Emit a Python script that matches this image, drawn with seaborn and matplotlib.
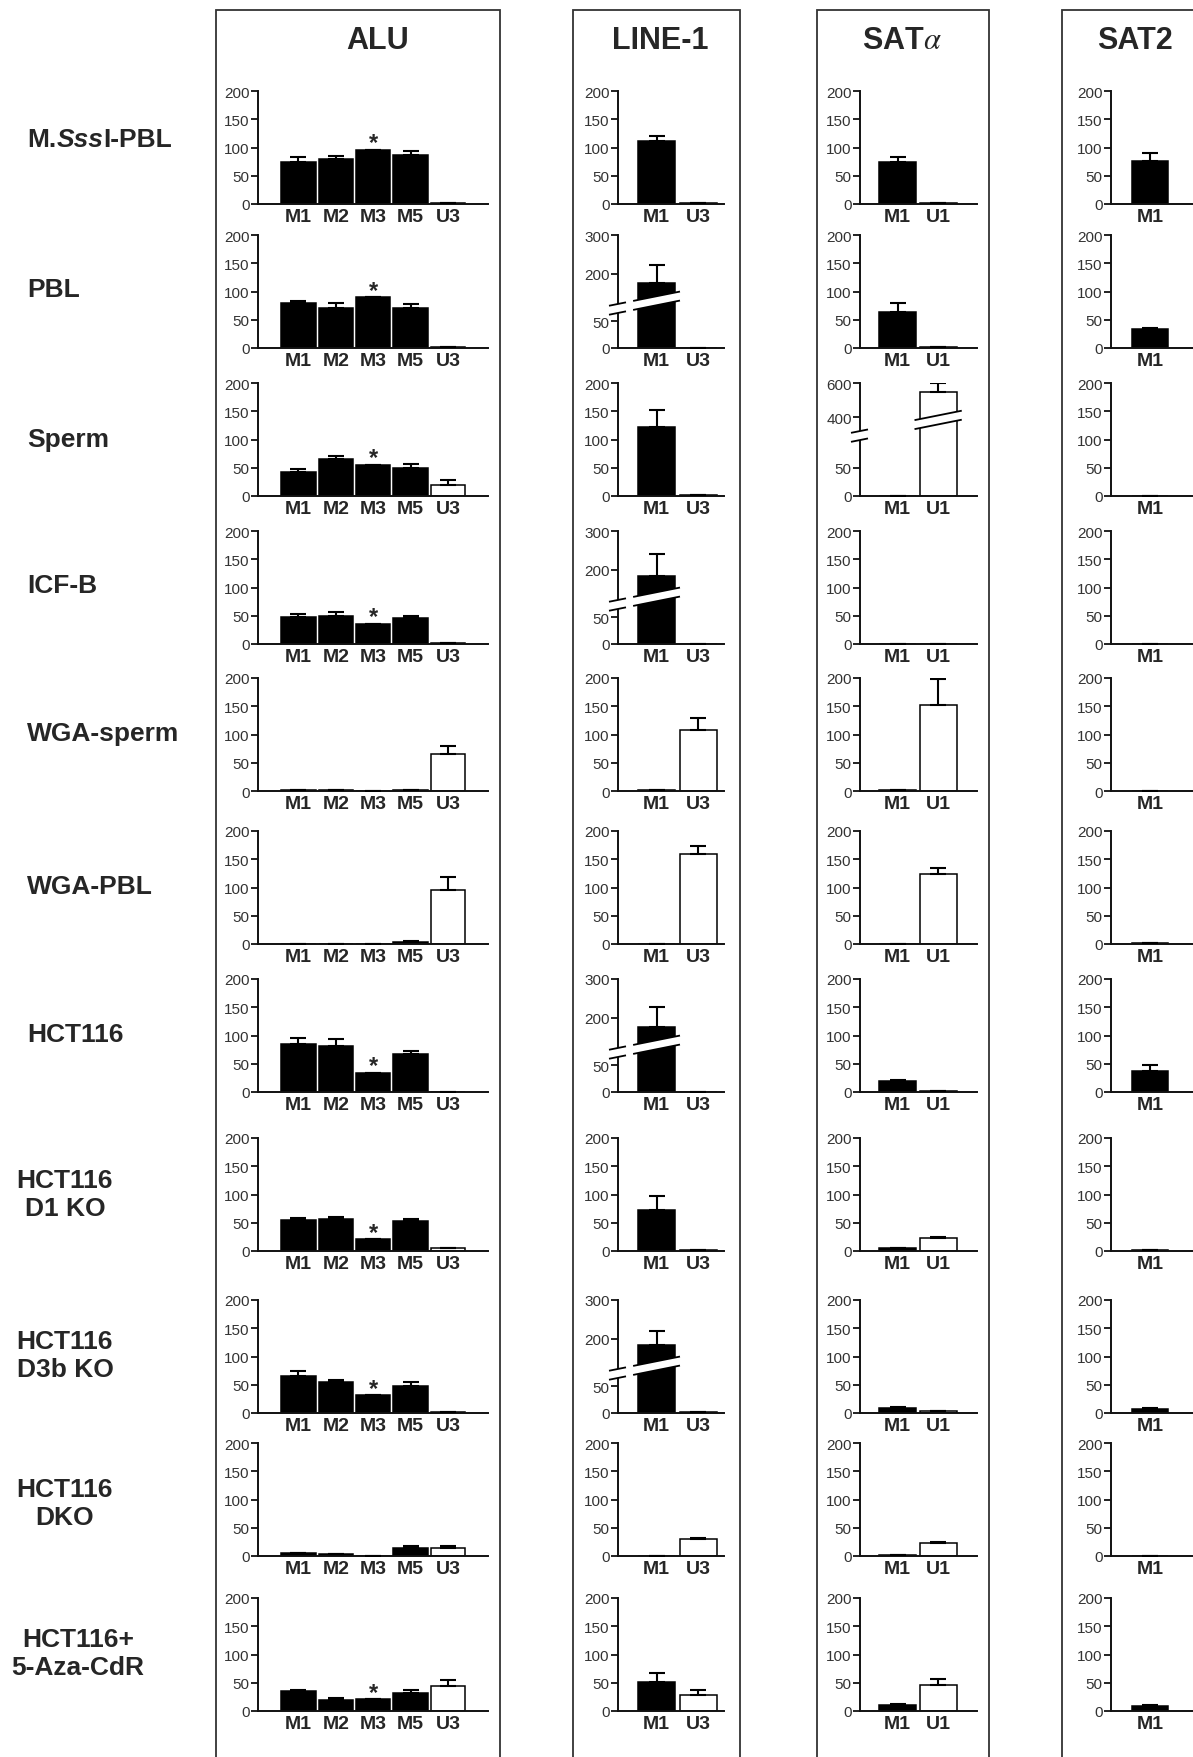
import numpy as np
import matplotlib
matplotlib.use('Agg')
import matplotlib.pyplot as plt
import seaborn as sns
from matplotlib.patches import Rectangle, Polygon

sns.set_style('ticks')
plt.rcParams['font.family'] = ['Liberation Sans', 'DejaVu Sans']
plt.rcParams['mathtext.fontset'] = 'stix'

# ---- data (% methylation-like values, mean and upper error) ----
row_names = ['M.SssI-PBL', 'PBL', 'Sperm', 'ICF-B', 'WGA-sperm', 'WGA-PBL', 'HCT116',
             'HCT116\nD1 KO', 'HCT116\nD3b KO', 'HCT116\nDKO', 'HCT116+\n5-Aza-CdR']

alu_labels = ['M1', 'M2', 'M3', 'M5', 'U3']
alu_means = [[74, 80, 96, 87, 1],
             [79, 70, 90, 70, 1],
             [43, 65, 55, 50, 19],
             [48, 49, 36, 46, 1],
             [1, 1, 0, 1, 65],
             [0, 0, 0, 3, 95],
             [85, 82, 34, 67, 0],
             [55, 56, 21, 53, 6],
             [66, 54, 31, 47, 1],
             [6, 3, 0, 14, 15],
             [35, 20, 21, 32, 44]]
alu_err = [[9, 5, 0, 6, 0],
           [4, 9, 0, 8, 0],
           [5, 6, 0, 6, 9],
           [5, 7, 0, 4, 0],
           [0, 0, 0, 0, 15],
           [0, 0, 0, 2, 24],
           [10, 11, 0, 5, 0],
           [4, 4, 0, 3, 0],
           [9, 5, 0, 7, 0],
           [0, 0, 0, 3, 2],
           [2, 3, 0, 6, 11]]
alu_star = [True, True, True, True, False, False, True, True, True, False, True]

line1_labels = ['M1', 'U3']
line1_means = [[112, 1], [176, 0], [122, 1], [185, 0], [1, 108], [0, 160],
               [178, 0], [72, 1], [185, 1], [0, 30], [52, 29]]
line1_err = [[9, 0], [47, 0], [30, 0], [55, 0], [0, 21], [0, 13],
             [50, 0], [25, 0], [35, 0], [0, 1], [15, 8]]
line1_broken = [1, 3, 6, 8]

sata_labels = ['M1', 'U1']
sata_means = [[74, 1], [63, 1], [0, 550], [0, 0], [1, 152], [0, 124],
              [19, 1], [5, 23], [8, 3], [1, 23], [11, 46]]
sata_err = [[9, 0], [16, 0], [0, 50], [0, 0], [0, 47], [0, 11],
            [2, 0], [1, 2], [2, 0], [0, 2], [2, 10]]
sata_broken = [2]

sat2_labels = ['M1']
sat2_means = [[76], [34], [0], [0], [0], [1], [38], [2], [7], [0], [8]]
sat2_err = [[15], [2], [0], [0], [0], [0], [10], [0], [2], [0], [2]]

# broken y axes: data value -> axes fraction knots
line1_knots = ([0, 65, 123, 300], [0, 0.31, 0.39, 1.0])
line1_break_ticks = [0, 50, 200, 300]
sata_knots = ([0, 100, 317, 600], [0, 0.50, 0.57, 1.0])
sata_break_ticks = [0, 50, 400, 600]

# ---- layout (pixels) ----
W, H = 1193, 1758
zero_y = [205, 349, 497, 645, 792, 945, 1093, 1252, 1414, 1557, 1712]
AX_H = 113
label_y = [140, 290, 440, 586, 734, 887, 1035, 1195, 1356, 1504, 1654]

fig = plt.figure(figsize=(W / 100, H / 100), dpi=100)


def add_px_axes(left, zero, width):
    return fig.add_axes([left / W, (H - zero) / H, width / W, AX_H / H])


def make_func(knots):
    vals, fracs = knots
    v = np.array(vals, float)
    f = np.array(fracs, float)
    lo = f[1] / v[1]
    hi = (f[-1] - f[-2]) / (v[-1] - v[-2])
    v = np.concatenate([[-1e5], v, [v[-1] + 1e5]])
    f = np.concatenate([[-1e5 * lo], f, [f[-1] + 1e5 * hi]])
    return (lambda y: np.interp(y, v, f)), (lambda y: np.interp(y, f, v))


def draw_band(ax, x0, x1, yc0, wpx, slope=0.2, half=4.5):
    xs = np.array([x0, x1], float)
    yc = yc0 + slope * xs
    top = (yc + half) / AX_H
    bot = (yc - half) / AX_H
    xf = xs / wpx
    ax.add_patch(Polygon([[xf[0], bot[0]], [xf[1], bot[1]], [xf[1], top[1]], [xf[0], top[0]]],
                         closed=True, transform=ax.transAxes, fc='white', ec='none',
                         zorder=10, clip_on=False))
    for yy in (top, bot):
        ax.plot(xf, yy, color='black', lw=1.3, transform=ax.transAxes, zorder=11,
                clip_on=False, solid_capstyle='butt')


def panel(ax, labels, means, errs, xlim, wpx, bar_w, star=False, knots=None, ticks=None):
    n = len(labels)
    pal = {lab: ('black' if lab.startswith('M') else 'white') for lab in labels}
    sns.barplot(x=labels, y=means, hue=labels, palette=pal, edgecolor='black',
                linewidth=1.1, width=bar_w, saturation=1, errorbar=None,
                legend=False, ax=ax, zorder=2)
    ax.errorbar(np.arange(n), means, yerr=[np.zeros(n), errs], fmt='none',
                ecolor='black', elinewidth=1.5, capsize=6, capthick=1.5, zorder=3)
    if knots is not None:
        fwd, inv = make_func(knots)
        ax.set_yscale('function', functions=(fwd, inv))
        ax.set_ylim(0, knots[0][-1])
        ax.set_yticks(ticks)
        # break marks: on the spine and across the tall bar
        fb = (knots[1][1] + knots[1][2]) / 2 * AX_H
        draw_band(ax, -9, 8, fb, wpx)
        j = int(np.argmax(means))
        scale = wpx / (xlim[1] - xlim[0])
        bx0 = (j - bar_w / 2 - xlim[0]) * scale - 5
        bx1 = (j + bar_w / 2 - xlim[0]) * scale + 5
        draw_band(ax, bx0, bx1, fb, wpx)
    else:
        ax.set_ylim(0, 200)
        ax.set_yticks([0, 50, 100, 150, 200])
    if star:
        ax.text(2, means[2] - 8, '*', ha='center', va='bottom', fontsize=17,
                fontweight='bold', zorder=4)
    ax.set_xlim(*xlim)
    ax.set_xticks(range(n), labels, fontsize=14, fontweight='bold')
    ax.set_xlabel('')
    ax.set_ylabel('')
    sns.despine(ax=ax)
    for s in ('left', 'bottom'):
        ax.spines[s].set_linewidth(1.4)
        ax.spines[s].set_color('#111111')
    ax.tick_params(axis='y', direction='out', length=5, width=1.3, labelsize=11,
                   pad=1, labelcolor='#333333', color='#111111')
    ax.tick_params(axis='x', length=0, pad=3)
    ax.patch.set_alpha(0)


for r in range(len(row_names)):
    z = zero_y[r]
    ax = add_px_axes(258, z, 230)
    panel(ax, alu_labels, alu_means[r], alu_err[r], (-1.08, 5.07), 230, 0.92,
          star=alu_star[r])
    if r == 0:
        ax0 = ax

    ax = add_px_axes(618, z, 106)
    if r in line1_broken:
        panel(ax, line1_labels, line1_means[r], line1_err[r], (-0.92, 1.61), 106, 0.88,
              knots=line1_knots, ticks=line1_break_ticks)
    else:
        panel(ax, line1_labels, line1_means[r], line1_err[r], (-0.92, 1.61), 106, 0.88)

    ax = add_px_axes(860, z, 117)
    if r in sata_broken:
        panel(ax, sata_labels, sata_means[r], sata_err[r], (-0.93, 1.96), 117, 0.92,
              knots=sata_knots, ticks=sata_break_ticks)
    else:
        panel(ax, sata_labels, sata_means[r], sata_err[r], (-0.93, 1.96), 117, 0.92)

    ax = add_px_axes(1111, z, 115)
    panel(ax, sat2_labels, sat2_means[r], sat2_err[r], (-0.975, 1.9), 115, 0.9)

# column frames
for x0, x1 in [(216, 500), (573, 740), (817, 989), (1062, 1300)]:
    fig.add_artist(Rectangle((x0 / W, -0.05), (x1 - x0) / W, 1.05 - 11 / H,
                             transform=fig.transFigure, fill=False, lw=1.3,
                             ec='#333333'))

# column titles
for cx, title in [(378, 'ALU'), (660, 'LINE-1'), (902, r'SAT$\alpha$'), (1135, 'SAT2')]:
    fig.text(cx / W, 1 - 41 / H, title, ha='center', va='center', fontsize=22,
             fontweight='bold')

# row labels
lab_kw = dict(fontsize=19, fontweight='bold')
t1 = fig.text(27 / W, 1 - label_y[0] / H, 'M.', ha='left', va='center', **lab_kw)
t2 = ax0.annotate('Sss', xy=(1, 0), xycoords=t1, ha='left', va='bottom',
                  style='italic', annotation_clip=False, **lab_kw)
ax0.annotate('I-PBL', xy=(1, 0), xycoords=t2, ha='left', va='bottom',
             annotation_clip=False, **lab_kw)
for r in range(1, len(row_names)):
    name = row_names[r]
    y = 1 - label_y[r] / H
    if '\n' in name:
        cx = 78 if name.startswith('HCT116+') else 65
        fig.text(cx / W, y, name, ha='center', va='center', multialignment='center',
                 linespacing=1.2, **lab_kw)
    else:
        fig.text(27 / W, y, name, ha='left', va='center', **lab_kw)

fig.savefig('out.png', dpi=100)
